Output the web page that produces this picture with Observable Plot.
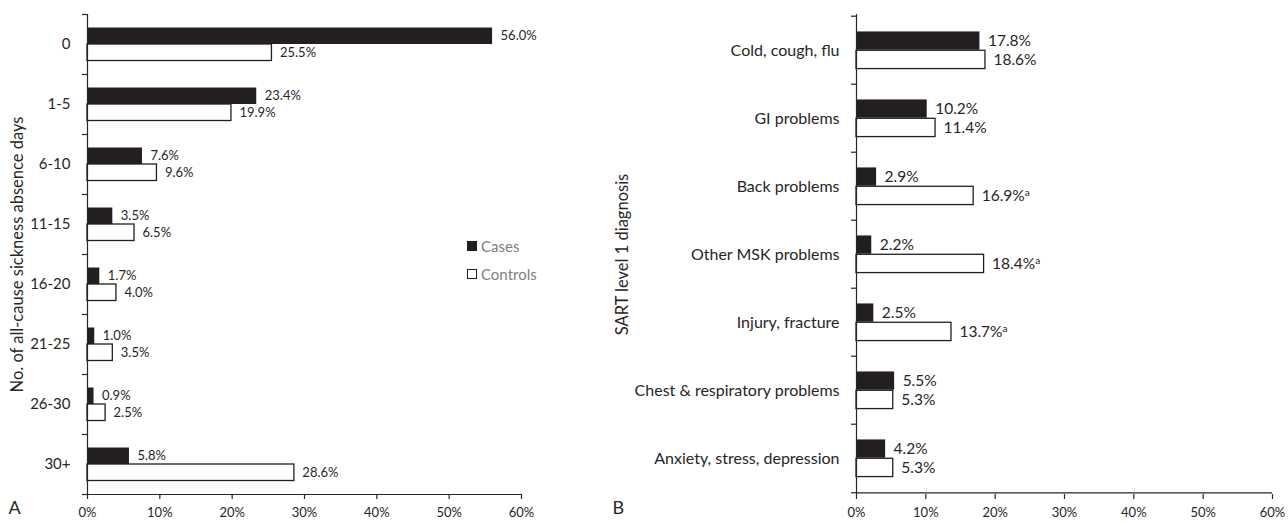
<!DOCTYPE html>
<html>
<head>
<meta charset="utf-8">
<script src="https://cdn.jsdelivr.net/npm/d3@7"></script>
<script src="https://cdn.jsdelivr.net/npm/@observablehq/plot@0.6"></script>
<style>
  html, body { margin: 0; padding: 0; background: #fff; }
  #wrap { position: relative; width: 1288px; height: 523px; display: flex; font-family: Lato, "Open Sans", sans-serif; }
  .legend { position: absolute; left: 467px; font-size: 15px; color: #808080; display: flex; align-items: center; }
  .sw { width: 10px; height: 10px; margin-right: 4px; box-sizing: border-box; }
</style>
</head>
<body>
<div id="wrap"></div>
<script>
// ---- Panel A data ----
const daysCategories = ["0", "1-5", "6-10", "11-15", "16-20", "21-25", "26-30", "30+"];
const daysCases = [56.0, 23.4, 7.6, 3.5, 1.7, 1.0, 0.9, 5.8];
const daysControls = [25.5, 19.9, 9.6, 6.5, 4.0, 3.5, 2.5, 28.6];

// ---- Panel B data ----
const diagCategories = ["Cold, cough, flu", "GI problems", "Back problems", "Other MSK problems", "Injury, fracture", "Chest & respiratory problems", "Anxiety, stress, depression"];
const diagCases = [17.8, 10.2, 2.9, 2.2, 2.5, 5.5, 4.2];
const diagControls = [18.6, 11.4, 16.9, 18.4, 13.7, 5.3, 5.3];
const diagSignificant = [false, false, true, true, true, false, false];

const xTicks = [0, 10, 20, 30, 40, 50, 60];
const seriesNames = ["Cases", "Controls"];

const H = 523, MT = 14, MB = 29;
const dark = "#231f20";
const ink = "#262626";

function panel({cats, cases, controls, sig, width, ml, mr, title, titleDx, letter, letterDx, valFs, catFs, titleFs}) {
  const plotH = H - MT - MB;
  const bw = plotH / cats.length;
  const barH = bw * (16.5 / 60);
  const top = (bw - 2 * barH) / 2;
  const rows = cats.map((c, i) => ({
    cat: c, cases: cases[i], controls: controls[i],
    caseLabel: cases[i].toFixed(1) + "%",
    ctrlLabel: controls[i].toFixed(1) + "%" + (sig && sig[i] ? "ᵃ" : "")
  }));
  return Plot.plot({
    width, height: H,
    marginTop: MT, marginBottom: MB, marginLeft: ml, marginRight: mr,
    style: {fontFamily: "Lato, 'Open Sans', sans-serif", fontSize: "13px", color: ink, background: "#fff"},
    x: {domain: [0, 60], axis: null},
    y: {domain: cats, padding: 0, axis: null},
    marks: [
      Plot.barX(rows, {y: "cat", x: "cases", fill: dark, insetTop: top, insetBottom: bw - top - barH}),
      Plot.barX(rows, {y: "cat", x: "controls", fill: "#fff", stroke: dark, strokeWidth: 1.3, insetTop: top + barH, insetBottom: top}),
      Plot.text(rows, {y: "cat", x: "cases", text: "caseLabel", textAnchor: "start", dx: 8, dy: -(barH / 2), fill: ink, fontSize: valFs}),
      Plot.text(rows, {y: "cat", x: "controls", text: "ctrlLabel", textAnchor: "start", dx: 8, dy: barH / 2, fill: ink, fontSize: valFs}),
      Plot.ruleX([0], {stroke: ink, strokeWidth: 1.2}),
      Plot.ruleY([cats[cats.length - 1]], {dy: bw / 2, stroke: ink, strokeWidth: 1.2}),
      Plot.axisY({ticks: cats, tickSize: 5, tickFormat: null, label: null, dy: -bw / 2, stroke: ink, strokeWidth: 1.2}),
      Plot.axisY({ticks: [cats[cats.length - 1]], tickSize: 5, tickFormat: null, label: null, dy: bw / 2, stroke: ink, strokeWidth: 1.2}),
      Plot.axisY({ticks: cats, tickSize: 0, tickPadding: 17, label: null, fontSize: catFs, fill: ink}),
      Plot.axisX({ticks: xTicks, tickFormat: d => d + "%", tickSize: 5, tickPadding: 8, label: null, fontSize: 13, fill: ink, stroke: ink, strokeWidth: 1.2}),
      Plot.text([title], {frameAnchor: "left", textAnchor: "middle", dx: titleDx, rotate: -90, fontSize: titleFs, fill: ink}),
      Plot.text([letter], {frameAnchor: "bottom-left", dx: letterDx, dy: 19, textAnchor: "start", fontSize: 18, fill: ink})
    ]
  });
}

const left = panel({cats: daysCategories, cases: daysCases, controls: daysControls, sig: null,
  width: 600, ml: 87, mr: 79, title: "No. of all-cause sickness absence days", titleDx: -70, letter: "A", letterDx: -79,
  valFs: 13, catFs: 15, titleFs: 16.5});
const right = panel({cats: diagCategories, cases: diagCases, controls: diagControls, sig: diagSignificant,
  width: 688, ml: 256, mr: 16, title: "SART level 1 diagnosis", titleDx: -234, letter: "B", letterDx: -244,
  valFs: 15.5, catFs: 16, titleFs: 16.5});

// superscript "a" for significant differences
d3.select(right).selectAll("text").each(function() {
  const t = this.textContent;
  if (t.endsWith("ᵃ")) {
    const el = d3.select(this);
    el.text(null);
    el.append("tspan").text(t.slice(0, -1));
    el.append("tspan").attr("dy", "-0.45em").attr("font-size", "0.65em").text("a");
  }
});

const wrap = document.getElementById("wrap");
wrap.appendChild(left);
wrap.appendChild(right);

// legend (inside panel A)
seriesNames.forEach((name, i) => {
  const d = document.createElement("div");
  d.className = "legend";
  d.style.top = (237 + i * 28) + "px";
  const sw = document.createElement("div");
  sw.className = "sw";
  sw.style.background = i === 0 ? dark : "#fff";
  sw.style.border = "1.3px solid " + dark;
  d.appendChild(sw);
  const s = document.createElement("span");
  s.textContent = name;
  d.appendChild(s);
  wrap.appendChild(d);
});
</script>
</body>
</html>
